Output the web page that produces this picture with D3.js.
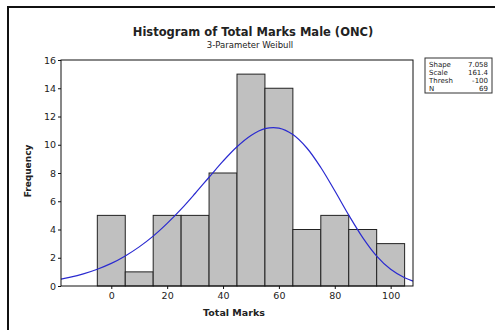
<!DOCTYPE html>
<html>
<head>
<meta charset="utf-8">
<script src="https://cdn.jsdelivr.net/npm/d3@7"></script>
<style>
  body { margin: 0; background: #fff; }
  text { font-family: "DejaVu Sans", Verdana, sans-serif; fill: #222; }
</style>
</head>
<body>
<svg id="chart"></svg>
<script>
// histogram bins (midpoints) and counts
var binMids = [0, 10, 20, 30, 40, 50, 60, 70, 80, 90, 100];
var counts = [5, 1, 5, 5, 8, 15, 14, 4, 5, 4, 3];
var binWidth = 10;

// fitted 3-parameter Weibull curve
var curveX = [-18, -15, -10, -5, 0, 5, 10, 15, 20, 25, 30, 35, 40, 45, 50, 55, 60, 65, 70, 75, 80, 85, 90, 95, 100, 105, 108];
var curveY = [0.49, 0.61, 0.86, 1.19, 1.6, 2.13, 2.77, 3.53, 4.43, 5.44, 6.55, 7.7, 8.84, 9.86, 10.66, 11.14, 11.18, 10.72, 9.77, 8.39, 6.74, 5.02, 3.43, 2.12, 1.18, 0.58, 0.35];

var xTicks = [0, 20, 40, 60, 80, 100];
var yTicks = [0, 2, 4, 6, 8, 10, 12, 14, 16];

var statLabels = ["Shape", "Scale", "Thresh", "N"];
var statValues = ["7.058", "161.4", "-100", "69"];

var W = 495, H = 330;
var svg = d3.select("#chart").attr("width", W).attr("height", H);

// outer frame
svg.append("path")
    .attr("d", "M8,340 V7 H500")
    .attr("fill", "none")
    .attr("stroke", "#111")
    .attr("stroke-width", 2);

var plot = {left: 61, top: 60, right: 413, bottom: 286};

var x = d3.scaleLinear().domain([-18, 108]).range([plot.left, plot.right]);
var y = d3.scaleLinear().domain([0, 16]).range([plot.bottom, plot.top]);

// bars
svg.selectAll("rect.bar")
    .data(binMids)
    .join("rect")
    .attr("class", "bar")
    .attr("x", function(d) { return x(d - binWidth / 2); })
    .attr("y", function(d, i) { return y(counts[i]); })
    .attr("width", function(d) { return x(d + binWidth / 2) - x(d - binWidth / 2); })
    .attr("height", function(d, i) { return y(0) - y(counts[i]); })
    .attr("fill", "#c0c0c0")
    .attr("stroke", "#222")
    .attr("stroke-width", 1);

// fitted curve
var line = d3.line()
    .x(function(d, i) { return x(curveX[i]); })
    .y(function(d) { return y(d); })
    .curve(d3.curveCatmullRom);

svg.append("path")
    .datum(curveY)
    .attr("d", line)
    .attr("fill", "none")
    .attr("stroke", "#2a2ad0")
    .attr("stroke-width", 1.2);

// plot frame
svg.append("rect")
    .attr("x", plot.left).attr("y", plot.top)
    .attr("width", plot.right - plot.left).attr("height", plot.bottom - plot.top)
    .attr("fill", "none").attr("stroke", "#111").attr("stroke-width", 1);

// axes
var xAxis = svg.append("g")
    .attr("transform", "translate(0," + plot.bottom + ")")
    .call(d3.axisBottom(x).tickValues(xTicks).tickSize(3).tickPadding(3));
var yAxis = svg.append("g")
    .attr("transform", "translate(" + plot.left + ",0)")
    .call(d3.axisLeft(y).tickValues(yTicks).tickSize(3).tickPadding(2));

[xAxis, yAxis].forEach(function(g) {
    g.select(".domain").remove();
    g.selectAll(".tick line").attr("stroke", "#111");
    g.selectAll(".tick text").style("font-family", "DejaVu Sans, sans-serif").style("font-size", "9.5px").attr("fill", "#333");
});

// titles
svg.append("text")
    .attr("x", 253).attr("y", 36)
    .attr("text-anchor", "middle")
    .style("font-size", "11.5px").style("font-weight", "bold")
    .attr("fill", "#111")
    .text("Histogram of Total Marks Male (ONC)");

svg.append("text")
    .attr("x", 250).attr("y", 48)
    .attr("text-anchor", "middle")
    .style("font-size", "8.5px")
    .text("3-Parameter Weibull");

svg.append("text")
    .attr("x", 234).attr("y", 316)
    .attr("text-anchor", "middle")
    .style("font-size", "9.5px").style("font-weight", "bold")
    .text("Total Marks");

svg.append("text")
    .attr("transform", "translate(31,171) rotate(-90)")
    .attr("text-anchor", "middle")
    .style("font-size", "9px").style("font-weight", "bold")
    .text("Frequency");

// stats box
var box = svg.append("g").attr("transform", "translate(425,58)");
box.append("rect")
    .attr("width", 67).attr("height", 35)
    .attr("fill", "#fff").attr("stroke", "#333").attr("stroke-width", 1);
box.selectAll("text.lab")
    .data(statLabels)
    .join("text")
    .attr("class", "lab")
    .attr("x", 4).attr("y", function(d, i) { return 9 + i * 8; })
    .style("font-size", "7px")
    .text(function(d) { return d; });
box.selectAll("text.val")
    .data(statValues)
    .join("text")
    .attr("class", "val")
    .attr("x", 63).attr("y", function(d, i) { return 9 + i * 8; })
    .attr("text-anchor", "end")
    .style("font-size", "7px")
    .text(function(d) { return d; });
</script>
</body>
</html>
